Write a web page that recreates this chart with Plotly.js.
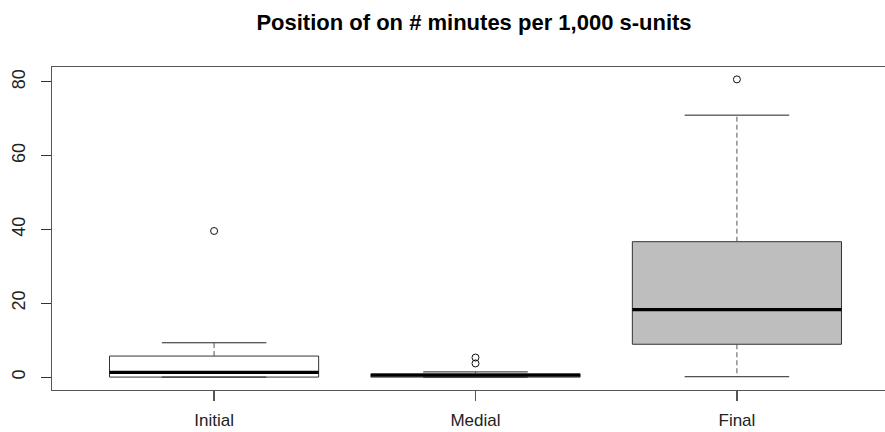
<!DOCTYPE html>
<html>
<head>
<meta charset="utf-8">
<script src="https://cdn.plot.ly/plotly-3.0.1.min.js"></script>
<style>
html,body{margin:0;padding:0;overflow:hidden;background:#fff;}
#chart{width:920px;height:432px;}
</style>
</head>
<body>
<div id="chart"></div>
<script>
// Data
var categories = ["Initial", "Medial", "Final"];
var positions = [1, 2, 3];
var q1Values = [0.0, 0.0, 8.9];
var medianValues = [1.3, 0.5, 18.3];
var q3Values = [5.7, 0.9, 36.7];
var lowerWhisker = [0.0, 0.0, 0.1];
var upperWhisker = [9.3, 1.4, 71.0];
var outlierValues = [[39.6], [3.7, 5.3], [80.7]];
var boxFills = ["#FFFFFF", "#FFFFFF", "#BEBEBE"];

var boxHalf = 0.4, capHalf = 0.2;
var traces = [];
var edge = "#333333";

for (var i = 0; i < categories.length; i++) {
  var c = positions[i];
  traces.push({
    type: "box", x: [c], q1: [q1Values[i]], median: [medianValues[i]], q3: [q3Values[i]],
    lowerfence: [q1Values[i]], upperfence: [q3Values[i]],
    width: 2 * boxHalf, fillcolor: boxFills[i], line: {color: edge, width: 1},
    whiskerwidth: 0, boxpoints: false, hoverinfo: "skip", showlegend: false
  });
  traces.push({
    type: "scatter", mode: "lines", x: [c, c, null, c, c],
    y: [q3Values[i], upperWhisker[i], null, q1Values[i], lowerWhisker[i]],
    line: {color: "#555555", width: 1, dash: "5px,3px"}, showlegend: false, hoverinfo: "skip"
  });
  traces.push({
    type: "scatter", mode: "lines",
    x: [c - capHalf, c + capHalf, null, c - capHalf, c + capHalf],
    y: [upperWhisker[i], upperWhisker[i], null, lowerWhisker[i], lowerWhisker[i]],
    line: {color: "#222222", width: 1}, showlegend: false, hoverinfo: "skip"
  });
  traces.push({
    type: "scatter", mode: "lines", x: [c - boxHalf, c + boxHalf],
    y: [medianValues[i], medianValues[i]],
    line: {color: "#000000", width: 3.2}, showlegend: false, hoverinfo: "skip"
  });
  traces.push({
    type: "scatter", mode: "markers",
    x: outlierValues[i].map(function(){ return c; }), y: outlierValues[i],
    marker: {symbol: "circle-open", size: 7, color: "#111111", line: {width: 1}},
    showlegend: false, hoverinfo: "skip"
  });
}

var layout = {
  width: 920, height: 432,
  margin: {l: 52, r: 21, t: 67, b: 42},
  paper_bgcolor: "#ffffff", plot_bgcolor: "#ffffff",
  font: {family: "Liberation Sans, Arial, sans-serif", size: 18, color: "#222222"},
  title: {text: "<b>Position of on # minutes per 1,000 s-units</b>",
          font: {size: 22, color: "#000000"}, x: 474/920, xanchor: "center",
          y: 1 - 22/432, yanchor: "middle", xref: "container", yref: "container"},
  xaxis: {range: [0.38, 3.62], tickmode: "array", tickvals: positions, ticktext: categories,
          showgrid: false, zeroline: false, showline: true, mirror: true,
          linecolor: "#555555", linewidth: 1.2, ticks: "outside", ticklen: 10,
          tickcolor: "#555555", tickwidth: 1.2, ticklabelstandoff: 4,
          tickfont: {size: 17}},
  yaxis: {range: [-3.5, 84.05], tickmode: "array", tickvals: [0, 20, 40, 60, 80],
          showgrid: false, zeroline: false, showline: true, mirror: true,
          linecolor: "#555555", linewidth: 1.2, ticks: "outside", ticklen: 10,
          tickcolor: "#333333", tickwidth: 1, tickangle: -90, ticklabelstandoff: 9}
};

Plotly.newPlot("chart", traces, layout, {displayModeBar: false, staticPlot: true});
</script>
</body>
</html>
